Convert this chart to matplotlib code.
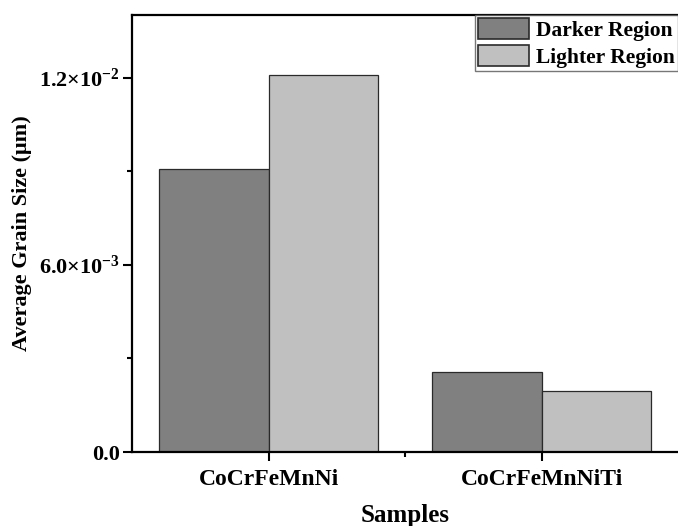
import numpy as np
import matplotlib.pyplot as plt
from matplotlib.ticker import FixedLocator, FixedFormatter, MultipleLocator

plt.rcParams['font.family'] = 'Liberation Serif'
plt.rcParams['font.weight'] = 'bold'
plt.rcParams['mathtext.fontset'] = 'custom'
plt.rcParams['mathtext.rm'] = 'Liberation Serif:bold'
plt.rcParams['mathtext.bf'] = 'Liberation Serif:bold'
plt.rcParams['mathtext.it'] = 'Liberation Serif:bold'

# datos
samples = ['CoCrFeMnNi', 'CoCrFeMnNiTi']
darker = [0.00908, 0.00257]
lighter = [0.01210, 0.00196]
ytick_vals = [0.0, 0.006, 0.012]
ytick_labels = ['0.0', '6.0×10$^{-3}$', '1.2×10$^{-2}$']

x = np.arange(len(samples))
width = 0.4

fig = plt.figure(figsize=(6.78, 5.26), dpi=100)
ax = fig.add_axes([132/678, 1 - 452/526, 1 - 132/678, (452 - 15)/526])

ax.bar(x - width/2, darker, width, color='#808080', edgecolor='#2a2a2a', linewidth=0.9, label='Darker Region')
ax.bar(x + width/2, lighter, width, color='#c0c0c0', edgecolor='#2a2a2a', linewidth=0.9, label='Lighter Region')

ax.set_xlim(-0.5, 1.5)
ax.set_ylim(0, 0.01402)

ax.yaxis.set_major_locator(FixedLocator(ytick_vals))
ax.yaxis.set_major_formatter(FixedFormatter(ytick_labels))
ax.yaxis.set_minor_locator(MultipleLocator(0.003))
ax.set_xticks(x)
ax.set_xticklabels(samples)
ax.xaxis.set_minor_locator(FixedLocator([0.5]))

ax.tick_params(which='both', direction='out', width=1.5)
ax.tick_params(which='major', length=6.5)
ax.tick_params(which='minor', length=3.5)
ax.tick_params(axis='y', labelsize=16, pad=2)
ax.tick_params(axis='x', labelsize=17, pad=6)

for s in ['left', 'bottom', 'top']:
    ax.spines[s].set_linewidth(1.6)
ax.spines['right'].set_visible(False)

ax.set_ylabel('Average Grain Size (μm)', fontsize=16, fontweight='bold', labelpad=5)
ax.set_xlabel('Samples', fontsize=18, fontweight='bold', labelpad=10)

leg = ax.legend(loc='upper right', bbox_to_anchor=(1.0, 1.0), fontsize=15.5, frameon=True,
                fancybox=False, edgecolor='#555555', borderaxespad=0, handlelength=2.4,
                handleheight=1.1, handletextpad=0.3, borderpad=0.15, labelspacing=0.2)
leg.get_frame().set_linewidth(1.0)
for h in leg.legend_handles:
    h.set_edgecolor('#2a2a2a')
    h.set_linewidth(1.2)

fig.savefig('out.png', dpi=100)
